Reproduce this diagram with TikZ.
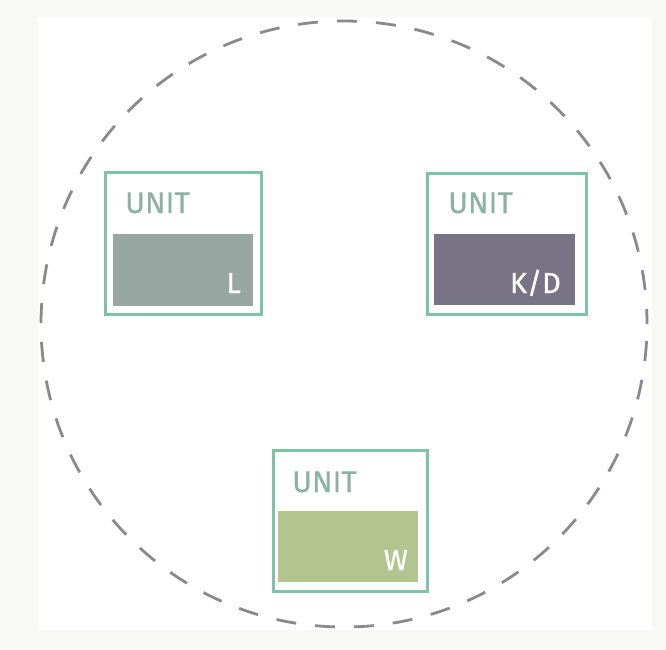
\documentclass[tikz,border=0pt]{standalone}
\usepackage{fontspec}
\setmainfont{Fira Sans}
\newfontfamily\unitfont[FakeBold=0.3]{Fira Sans}
\newfontfamily\letfont[FakeBold=0.8]{Fira Sans}
\definecolor{bgcol}{HTML}{F8F9F4}
\definecolor{boxline}{HTML}{7DC3A8}
\definecolor{unittext}{HTML}{8CB2A4}
\definecolor{fillL}{HTML}{97A7A1}
\definecolor{fillKD}{HTML}{787486}
\definecolor{fillW}{HTML}{B3C48F}
\definecolor{ringcol}{HTML}{8A8A8A}
\tikzset{
  unitbox/.style={draw=boxline, line width=3.5pt, fill=white, inner sep=0pt, anchor=north west},
  panel/.style={inner sep=0pt, anchor=north west, draw=none},
  unitlabel/.style={font=\unitfont\fontsize{30}{30}\selectfont, text=unittext, inner sep=0pt, anchor=base west},
  letterlabel/.style={font=\letfont\fontsize{29}{29}\selectfont, text=white, inner sep=0pt, anchor=base east},
  ring/.style={circle, draw=ringcol, line width=2.8pt, dash pattern=on 20pt off 19pt, dash phase=5pt, inner sep=0pt}
}
\begin{document}
\begin{tikzpicture}[x=1pt,y=-1pt]
\useasboundingbox (0,0) rectangle (666,649);
\fill[bgcol] (0,0) rectangle (666,649);
\fill[white] (38,17) rectangle (652,630);
\node[ring, minimum size=606pt] (ring) at (344,324) {};
% box L
\node[unitbox, minimum width=156pt, minimum height=142pt] (boxL) at (103.75,170.75) {};
\node[panel, fill=fillL, minimum width=140pt, minimum height=72pt] (panelL) at (113,234) {};
\node[unitlabel] (unitL) at (125,213) {UNIT};
\node[letterlabel] (letL) at (241,293) {L};
% box K/D
\node[unitbox, minimum width=159pt, minimum height=141pt] (boxKD) at (425.75,171.75) {};
\node[panel, fill=fillKD, minimum width=141pt, minimum height=71pt] (panelKD) at (434,234) {};
\node[unitlabel] (unitKD) at (448,213) {UNIT};
\node[letterlabel] (letKD) at (561,293) {K/D};
% box W
\node[unitbox, minimum width=154pt, minimum height=141pt] (boxW) at (271.75,448.75) {};
\node[panel, fill=fillW, minimum width=140pt, minimum height=71pt] (panelW) at (278,511) {};
\node[unitlabel] (unitW) at (292,492) {UNIT};
\node[letterlabel] (letW) at (408,570) {W};
\end{tikzpicture}
\end{document}
